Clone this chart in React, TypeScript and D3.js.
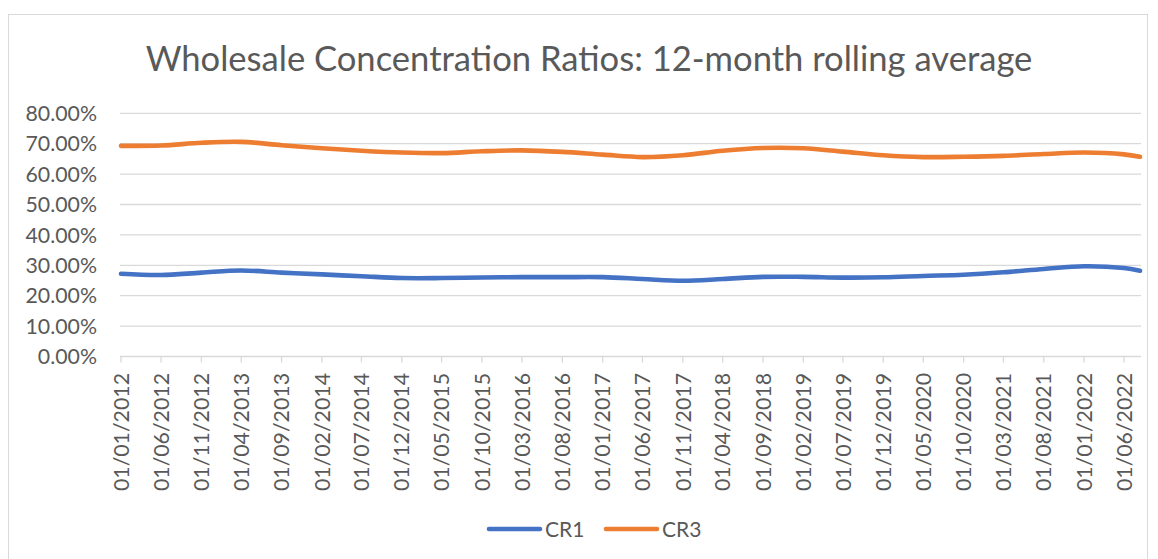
import React from 'react';
import * as d3 from 'd3';

const title = 'Wholesale Concentration Ratios: 12-month rolling average';
const dates = [
  '01/01/2012', '01/06/2012', '01/11/2012', '01/04/2013', '01/09/2013', '01/02/2014',
  '01/07/2014', '01/12/2014', '01/05/2015', '01/10/2015', '01/03/2016', '01/08/2016',
  '01/01/2017', '01/06/2017', '01/11/2017', '01/04/2018', '01/09/2018', '01/02/2019',
  '01/07/2019', '01/12/2019', '01/05/2020', '01/10/2020', '01/03/2021', '01/08/2021',
  '01/01/2022', '01/06/2022', '01/08/2022',
];
const tickLabels = dates.slice(0, 26);
const cr1 = [
  27.2, 26.8, 27.6, 28.3, 27.6, 27.0, 26.4, 25.8, 25.8, 26.0, 26.1, 26.1, 26.1, 25.5,
  24.9, 25.5, 26.2, 26.2, 25.95, 26.05, 26.5, 26.9, 27.7, 28.8, 29.7, 29.1, 28.2,
];
const cr3 = [
  69.3, 69.4, 70.3, 70.6, 69.5, 68.5, 67.7, 67.1, 66.9, 67.5, 67.8, 67.3, 66.4, 65.6,
  66.2, 67.7, 68.6, 68.5, 67.4, 66.2, 65.6, 65.7, 66.0, 66.6, 67.1, 66.5, 65.7,
];
const yTicks = [0, 10, 20, 30, 40, 50, 60, 70, 80];
const seriesNames = ['CR1', 'CR3'];
const colors = ['#4472C4', '#ED7D31'];

const parse = d3.timeParse('%d/%m/%Y');
const FONT = 'Lato, "Open Sans", sans-serif';
const TEXT = '#595959';
const GRID = '#d9d9d9';

export default function App() {
  const x = d3
    .scaleTime()
    .domain([parse(dates[0])!, parse(dates[dates.length - 1])!])
    .range([121, 1140]);
  const y = d3.scaleLinear().domain([0, 80]).range([356.5, 113.3]);
  const series = [cr1, cr3];
  const line = d3
    .line<number>()
    .x((_, i) => x(parse(dates[i])!))
    .y((d) => y(d))
    .curve(d3.curveCatmullRom.alpha(0.5));

  return (
    <svg
      width={1158}
      height={559}
      style={{ position: 'absolute', left: 0, top: 0, background: '#fff' }}
      fontFamily={FONT}
    >
      <rect x={8.5} y={14.5} width={1139} height={560} fill="#fff" stroke={GRID} />
      <text x={589} y={71} textAnchor="middle" fontSize={34.6} fill={TEXT}>
        {title}
      </text>
      {yTicks.map((t) => (
        <g key={t}>
          <line x1={120} x2={1141} y1={y(t)} y2={y(t)} stroke={GRID} strokeWidth={1.3} />
          <text x={97} y={y(t)} dy="0.36em" textAnchor="end" fontSize={21.3} fill={TEXT}>
            {t.toFixed(2)}%
          </text>
        </g>
      ))}
      {tickLabels.map((d) => {
        const px = x(parse(d)!);
        return (
          <g key={d}>
            <line x1={px} x2={px} y1={y(0)} y2={y(0) + 6} stroke={GRID} strokeWidth={1.3} />
            <text
              transform={`translate(${px},${y(0) + 16.5}) rotate(-90)`}
              textAnchor="end"
              dy="0.36em"
              fontSize={21.3}
              fill={TEXT}
            >
              {d}
            </text>
          </g>
        );
      })}
      {series.map((s, i) => (
        <path
          key={seriesNames[i]}
          d={line(s) || ''}
          fill="none"
          stroke={colors[i]}
          strokeWidth={4.6}
          strokeLinecap="round"
          strokeLinejoin="round"
        />
      ))}
      {seriesNames.map((n, i) => {
        const lx = 489 + i * 117;
        return (
          <g key={n}>
            <line x1={lx} x2={lx + 51} y1={529} y2={529} stroke={colors[i]} strokeWidth={4.6} strokeLinecap="round" />
            <text x={lx + 56} y={529} dy="0.36em" fontSize={21} fill={TEXT}>
              {n}
            </text>
          </g>
        );
      })}
    </svg>
  );
}
